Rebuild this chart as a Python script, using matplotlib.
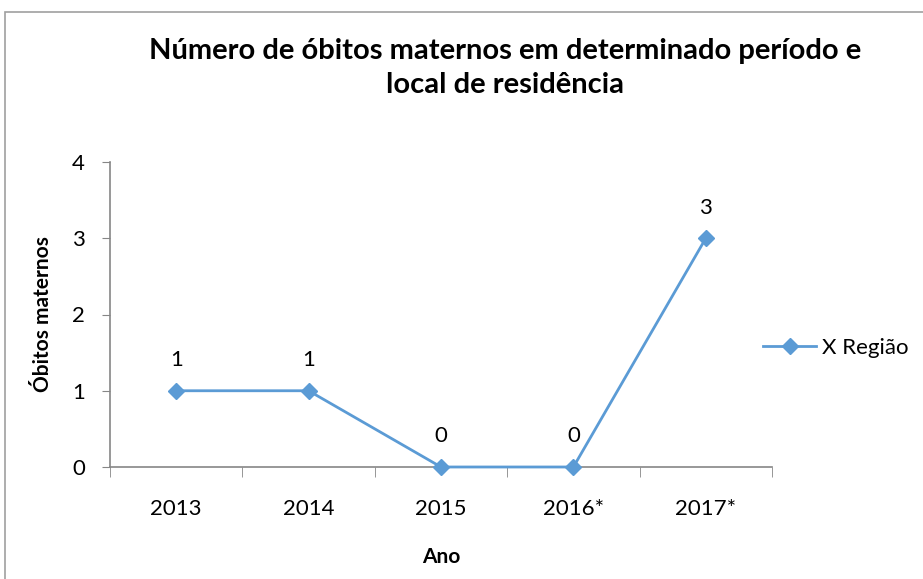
import matplotlib.pyplot as plt
import numpy as np
from matplotlib.patches import Rectangle

# ======================
# DATA
# ======================
anos = ["2013", "2014", "2015", "2016*", "2017*"]
obitos = [1, 1, 0, 0, 3]
serie = "X Região"

TITULO = "Número de óbitos maternos em determinado período e\nlocal de residência"
COR = "#5B9BD5"
CINZA = "#868686"
FS = 16

plt.rcParams["font.family"] = ["Lato", "DejaVu Sans"]

fig = plt.figure(figsize=(9.23, 5.79), dpi=100)

# moldura do gráfico (cortada à direita e embaixo)
fig.patches.append(Rectangle((5 / 923, -0.1), 1.2, 1 - 12 / 579 + 0.1,
                             transform=fig.transFigure, fill=False,
                             edgecolor="#A0A0A0", linewidth=1.2))

ax = fig.add_axes([110 / 923, 1 - 467 / 579, (772 - 110) / 923, (467 - 162) / 579])

x = np.arange(len(anos))
ax.plot(x, obitos, color=COR, linewidth=2.0, marker="D", markersize=8.5,
        label=serie, clip_on=False, zorder=3)

for xi, v in zip(x, obitos):
    ax.annotate(str(v), (xi, v), xytext=(0, 22), textcoords="offset points",
                ha="center", va="center", fontsize=FS)

ax.set_xlim(-0.5, len(anos) - 0.5)
ax.set_ylim(0, 4)
ax.set_yticks(range(0, 5))
ax.set_xticks(x)
ax.set_xticklabels(anos)
ax.set_xticks(np.arange(-0.5, len(anos)), minor=True)
ax.tick_params(axis="x", which="major", length=0, pad=23, labelsize=FS)
ax.tick_params(axis="x", which="minor", length=7, color=CINZA, direction="out")
ax.tick_params(axis="y", length=6, color=CINZA, labelsize=FS, pad=12)

for s in ["top", "right"]:
    ax.spines[s].set_visible(False)
for s in ["left", "bottom"]:
    ax.spines[s].set_color(CINZA)
    ax.spines[s].set_linewidth(1.2)

ax.set_xlabel("Ano", fontsize=15, fontweight="bold", labelpad=20)
ax.set_ylabel("Óbitos maternos", fontsize=15, fontweight="bold", labelpad=14)

fig.text(505 / 923, 1 - 68 / 579, TITULO, ha="center", va="center",
         fontsize=21, fontweight="bold", linespacing=1.38)

ax.legend(loc="center left", bbox_to_anchor=(763 / 923, 1 - 348 / 579),
          bbox_transform=fig.transFigure, frameon=False, fontsize=FS,
          handlelength=2.4, handletextpad=0.25, borderaxespad=0, borderpad=0)

fig.savefig("out.png", dpi=100)
